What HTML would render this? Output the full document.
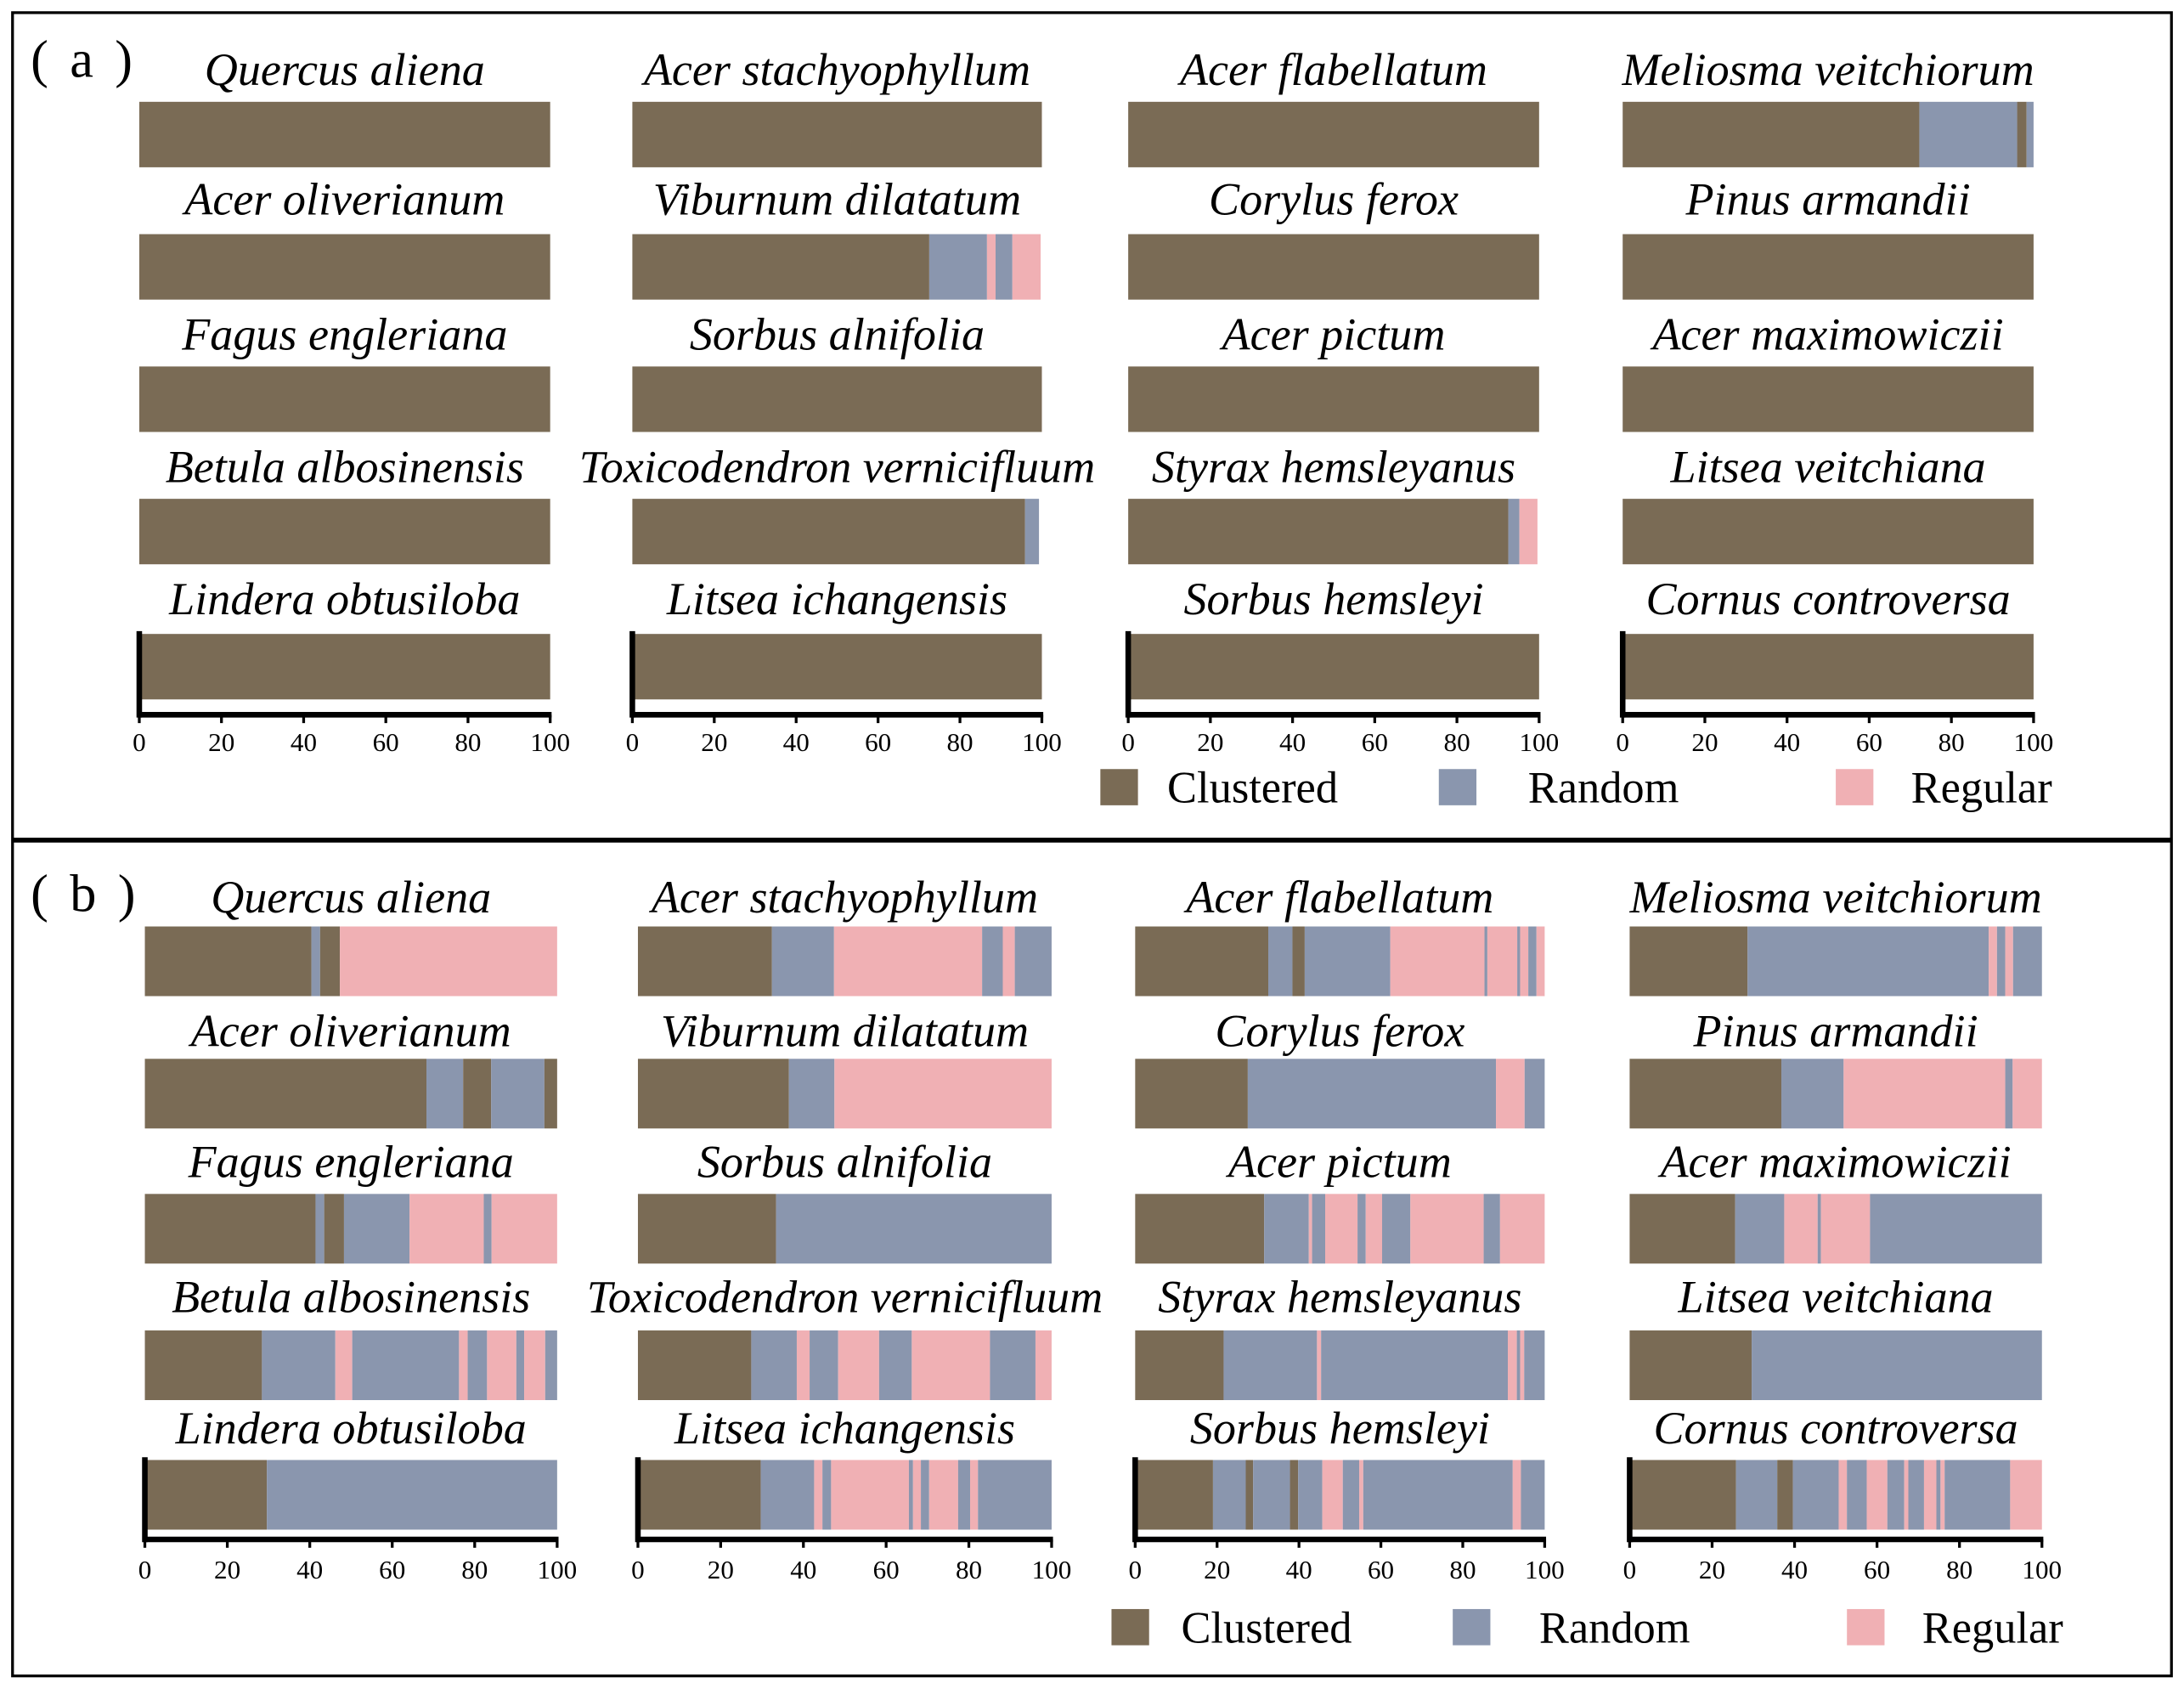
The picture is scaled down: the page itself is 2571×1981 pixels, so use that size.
<!DOCTYPE html>
<html><head><meta charset="utf-8"><style>
html,body{margin:0;padding:0;background:#fff}
svg{display:block}
text{font-family:"Liberation Serif",serif;fill:#000}
.t{font-style:italic;font-size:33px}
.tk{font-size:19px}
.lg{font-size:32px}
</style></head><body>
<svg id="fig" width="2571" height="1981" viewBox="0 0 1568 1208" xmlns="http://www.w3.org/2000/svg">
<rect x="9" y="9" width="1550" height="1194" fill="none" stroke="#000" stroke-width="2"/>
<line x1="9" y1="603" x2="1559" y2="603" stroke="#000" stroke-width="3.5"/>
<text x="22" y="55" font-size="38" letter-spacing="3">( a )</text>
<text x="22" y="654" font-size="38" letter-spacing="3">( b )</text>
<g id="plots"></g>
</svg>
<script>
const species = ["Quercus aliena","Acer stachyophyllum","Acer flabellatum","Meliosma veitchiorum",
"Acer oliverianum","Viburnum dilatatum","Corylus ferox","Pinus armandii",
"Fagus engleriana","Sorbus alnifolia","Acer pictum","Acer maximowiczii",
"Betula albosinensis","Toxicodendron vernicifluum","Styrax hemsleyanus","Litsea veitchiana",
"Lindera obtusiloba","Litsea ichangensis","Sorbus hemsleyi","Cornus controversa"];
const categories = ["Clustered","Random","Regular"];
const tickLabels = [0,20,40,60,80,100];
// segment type codes: 0 Clustered, 1 Random, 2 Regular
const typesA = [[0],[0],[0],[0,1,0,1],
[0],[0,1,2,1,2],[0],[0],
[0],[0],[0],[0],
[0],[0,1],[0,1,2],[0],
[0],[0],[0],[0]];
const valuesA = [[100],[100],[100],[72.2,23.8,2.3,1.7],
[100],[72.5,14.1,2.1,4.1,6.9],[100],[100],
[100],[100],[100],[100],
[100],[95.9,3.4],[92.5,2.7,4.4],[100],
[100],[100],[100],[100]];
const typesB = [
[0,1,0,2],[0,1,2,1,2,1],[0,1,0,1,2,1,2,1,2,1,2],[0,1,2,1,2,1],
[0,1,0,1,0],[0,1,2],[0,1,2,1],[0,1,2,1,2],
[0,1,0,1,2,1,2],[0,1],[0,1,2,1,2,1,2,1,2,1,2],[0,1,2,1,2,1],
[0,1,2,1,2,1,2,1,2,1],[0,1,2,1,2,1,2,1,2],[0,1,2,1,2,1,2,1],[0,1],
[0,1],[0,1,2,1,2,1,2,1,2,1,2,1],[0,1,0,1,0,1,2,1,2,1,2,1],[0,1,0,1,2,1,2,1,2,1,2,1,2,1,2]];
const valuesB = [
[40.4,2.1,4.8,52.7],[32.4,15,35.8,5,2.9,8.9],[32.5,5.9,3,20.9,23,0.7,7.3,0.7,2,2,2],[28.6,58.5,2,2,1.9,7],
[68.3,8.9,6.8,12.9,3.1],[36.5,11,52.5],[27.5,60.6,7,4.9],[36.8,15.1,39.2,1.8,7.1],
[41.4,2.1,4.8,15.9,18,1.9,15.9],[33.4,66.6],[31.5,10.9,0.8,3.2,7.9,2,4,6.9,17.9,4,10.9],[25.6,11.9,8.1,0.8,11.9,41.7],
[28.4,17.8,4.1,25.9,2.1,4.7,7.1,1.9,5.1,2.9],[27.4,11,3.1,6.9,9.9,7.9,18.9,11,3.9],[21.6,22.8,1,45.6,2.2,0.8,1,5],[29.6,70.4],
[29.6,70.4],[29.7,12.9,2,2.1,18.8,1,1.9,2,7,2.9,1.9,17.8],[19,8,1.8,9,2,5.9,5,4,1,36.5,2,5.8],[25.8,10,3.8,11.1,2,4.8,5,4.1,1,3.8,3,1,1,15.9,7.7]];

const colors = ["#7a6b55","#8a96ae","#f0b0b4"];
const NS = "http://www.w3.org/2000/svg";
const root = document.getElementById("plots");
function mk(tag, attrs, parent){const e=document.createElementNS(NS,tag);for(const k in attrs)e.setAttribute(k,attrs[k]);(parent||root).appendChild(e);return e;}

const panels = [
 {types:typesA, vals:valuesA, x0:[100,454,810,1165], x1:[395,748,1105,1460], barTop:[73,168,263,358,455], barH:47, titleY:[61,154,251,346,441], axisY:513, tickY:539, legY:552, legSq:[790,1033,1318], legTx:[838,1097,1372], tag:"a"},
 {types:typesB, vals:valuesB, x0:[104,458,815,1170], x1:[400,755,1109,1466], barTop:[665,760,857,955,1048], barH:50, titleY:[655,751,845,942,1036], axisY:1105, tickY:1133, legY:1155, legSq:[798,1043,1326], legTx:[848,1105,1380], tag:"b"}
];

panels.forEach(p=>{
  const g = mk("g",{});
  
  
  species.forEach((name,i)=>{
    const col=i%4,row=Math.floor(i/4);
    const x0=p.x0[col],x1=p.x1[col];
    const xs=v=>x0+(x1-x0)*v/100;
    const t=mk("text",{x:(x0+x1)/2,y:p.titleY[row],"text-anchor":"middle",class:"t"},g);
    t.textContent=name;
    
    
    let acc=0;
    p.vals[i].forEach((v,k)=>{
      const r=mk("rect",{x:xs(acc),y:p.barTop[row],width:Math.max(0,xs(acc+v)-xs(acc)),height:p.barH,fill:colors[p.types[i][k]]},g);
      
      
      acc+=v;
    });
    if(row===4){
      const ax=mk("g",{},g);
      
      
      mk("line",{x1:x0,y1:p.barTop[row]-2,x2:x0,y2:p.axisY+2,stroke:"#000","stroke-width":4},ax);
      mk("line",{x1:x0-1,y1:p.axisY,x2:x1+1,y2:p.axisY,stroke:"#000","stroke-width":4},ax);
      tickLabels.forEach(tv=>{
        mk("line",{x1:xs(tv),y1:p.axisY,x2:xs(tv),y2:p.axisY+6,stroke:"#000","stroke-width":2},ax);
        const tl=mk("text",{x:xs(tv),y:p.tickY,"text-anchor":"middle",class:"tk"},ax);
        tl.textContent=tv;
        
        
      });
    }
  });
  categories.forEach((c,k)=>{
    const sq=mk("rect",{x:p.legSq[k],y:p.legY,width:27,height:26,fill:colors[k]},g);
    
    
    const lt=mk("text",{x:p.legTx[k],y:p.legY+24,class:"lg"},g);
    lt.textContent=c;
    
    
  });
});
</script>
</body></html>
